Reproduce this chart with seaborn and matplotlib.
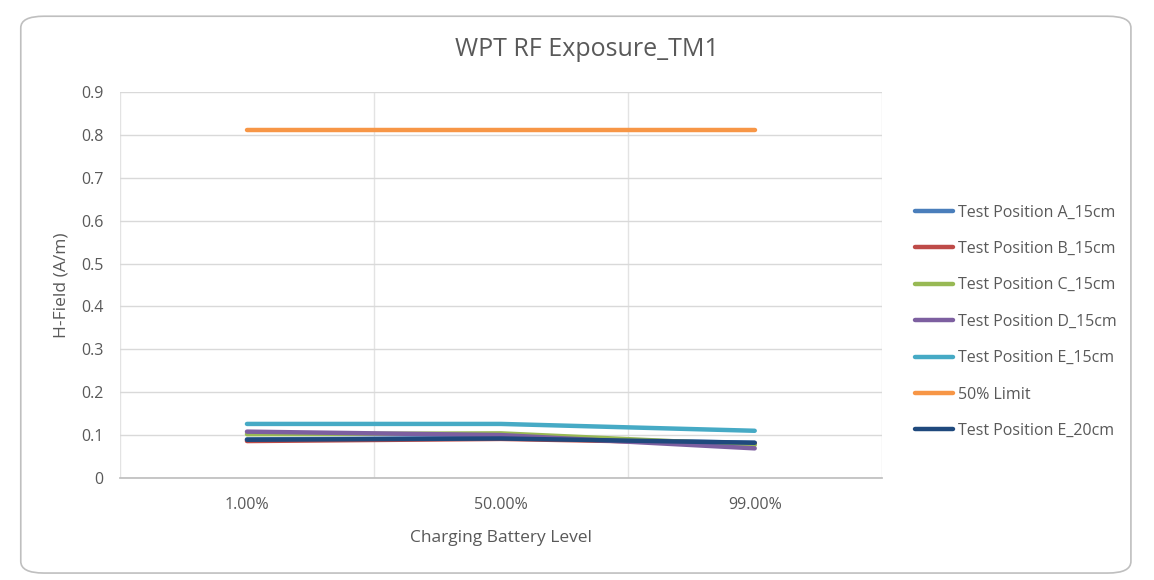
import pandas as pd
import numpy as np
import matplotlib.pyplot as plt
import seaborn as sns
from matplotlib.patches import FancyBboxPatch

# Data
levels = ['1.00%', '50.00%', '99.00%']
series_names = ['Test Position A_15cm', 'Test Position B_15cm', 'Test Position C_15cm',
                'Test Position D_15cm', 'Test Position E_15cm', '50% Limit',
                'Test Position E_20cm']
pos_a_15 = [0.090, 0.093, 0.082]
pos_b_15 = [0.086, 0.091, 0.080]
pos_c_15 = [0.102, 0.104, 0.077]
pos_d_15 = [0.108, 0.100, 0.069]
pos_e_15 = [0.126, 0.126, 0.110]
limit_50 = [0.811, 0.811, 0.811]
pos_e_20 = [0.089, 0.092, 0.082]
colors = ['#4a7ebb', '#be4b48', '#98b954', '#7d5fa0', '#46aac5', '#f79646', '#1f497d']

all_values = [pos_a_15, pos_b_15, pos_c_15, pos_d_15, pos_e_15, limit_50, pos_e_20]
rows = []
for name, vals in zip(series_names, all_values):
    for i, v in enumerate(vals):
        rows.append({'level': i, 'series': name, 'value': v})
df = pd.DataFrame(rows)

sns.set_theme(style='white')
plt.rcParams['font.family'] = ['Open Sans', 'DejaVu Sans']
text_color = '#595959'

fig = plt.figure(figsize=(11.54, 5.8), dpi=100)
# rounded chart border, behind everything
border = FancyBboxPatch((0.018, 0.012), 0.962, 0.96, boxstyle='round,pad=0,rounding_size=0.02',
                        transform=fig.transFigure, facecolor='none',
                        edgecolor='#bfbfbf', linewidth=1.2, zorder=-10)
fig.patches.append(border)

ax = fig.add_axes([0.104, 0.176, 0.660, 0.665])
ax.patch.set_alpha(0)
sns.lineplot(data=df, x='level', y='value', hue='series', hue_order=series_names,
             palette=colors, linewidth=3.2, ax=ax, legend=True)

ax.set_xlim(-0.5, 2.5)
ax.set_ylim(0, 0.9)
yt = np.arange(0, 0.91, 0.1).round(1)
ax.set_yticks(yt)
ax.set_yticklabels([f'{v:g}' for v in yt], color=text_color, fontsize=11.5)
ax.set_xticks([0, 1, 2])
ax.set_xticklabels(levels, color=text_color, fontsize=11.5)
ax.set_xticks([-0.5, 0.5, 1.5, 2.5], minor=True)
ax.tick_params(axis='x', which='major', length=0, pad=14)
ax.tick_params(axis='x', which='minor', length=6, color='#bfbfbf', width=1)
ax.tick_params(axis='y', length=0, pad=12)
ax.grid(True, axis='y', color='#d9d9d9', linewidth=1)
ax.grid(True, axis='x', which='minor', color='#e3e3e3', linewidth=1)
ax.set_axisbelow(True)
for s in ['top', 'right', 'left']:
    ax.spines[s].set_visible(False)
ax.spines['bottom'].set_color('#bfbfbf')

ax.set_xlabel('Charging Battery Level', color=text_color, fontsize=12.5, labelpad=12)
ax.set_ylabel('H-Field (A/m)', color=text_color, fontsize=12.5, labelpad=8)
fig.suptitle('WPT RF Exposure_TM1', color=text_color, fontsize=18, x=0.509, y=0.914, va='center')

leg = ax.legend(loc='center left', bbox_to_anchor=(1.025, 0.405), frameon=False,
                fontsize=11.5, handlelength=2.4, labelspacing=1.28, handletextpad=0.3)
for t in leg.get_texts():
    t.set_color(text_color)
for h in leg.get_lines():
    h.set_linewidth(3.2)

fig.savefig('out.png', dpi=100)
